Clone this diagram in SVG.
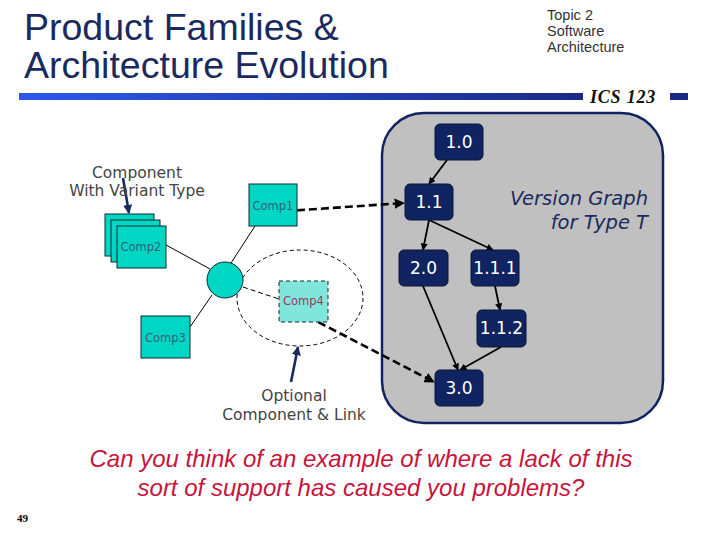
<svg xmlns="http://www.w3.org/2000/svg" width="720" height="540" viewBox="0 0 720 540">
<style>
.title{font-family:"Liberation Sans",Arial,sans-serif;font-size:37.5px;fill:#1b2a5e}
.topic{font-family:"Liberation Sans",Arial,sans-serif;font-size:14.5px;fill:#333}
.ics{font-family:"Liberation Serif",serif;font-size:18px;font-weight:bold;font-style:italic;fill:#111;letter-spacing:0.8px}
.ver rect{fill:#0f2460;stroke:#0a1638;stroke-width:1}
.ver text{font-family:"DejaVu Sans",Verdana,sans-serif;font-size:17px;fill:#fff;text-anchor:middle}
.comp rect{fill:#00d6c4;stroke:#0a2a30;stroke-width:1}
.comp text{font-family:"DejaVu Sans",Verdana,sans-serif;font-size:11.5px;fill:#35607a;text-anchor:middle}
.note{font-family:"DejaVu Sans",Verdana,sans-serif;font-size:15.5px;fill:#444;text-anchor:middle}
.vg{font-family:"DejaVu Sans",Verdana,sans-serif;font-size:19.5px;font-style:italic;fill:#1b2a5e;text-anchor:end}
.q{font-family:"Liberation Sans",Arial,sans-serif;font-size:24px;font-style:italic;fill:#c8143c;text-anchor:middle}
.thin{stroke:#000;stroke-width:1;fill:none}
.solid{stroke:#000;stroke-width:1.8;fill:none;marker-end:url(#ah)}
.dash{stroke:#000;stroke-width:2.6;fill:none;stroke-dasharray:8 4;marker-end:url(#ah)}
.navy{stroke:#1b2a5e;stroke-width:2.6;fill:none;marker-end:url(#ahn)}
</style>
<defs>
<linearGradient id="bar" x1="0" x2="1" y1="0" y2="0">
<stop offset="0" stop-color="#2c58ea"/>
<stop offset="1" stop-color="#1a2a88"/>
</linearGradient>
<marker id="ah" viewBox="0 0 10 10" refX="9" refY="5" markerWidth="4" markerHeight="4" orient="auto" markerUnits="strokeWidth">
<path d="M0,0 L10,5 L0,10 z" fill="#000"/>
</marker>
<marker id="ahn" viewBox="0 0 10 10" refX="9" refY="5" markerWidth="3.5" markerHeight="3.5" orient="auto" markerUnits="strokeWidth">
<path d="M0,0 L10,5 L0,10 z" fill="#1b2a5e"/>
</marker>
</defs>
<rect width="720" height="540" fill="#fff"/>

<g id="header">
<text class="title" x="24" y="40">Product Families &amp;</text>
<text class="title" x="24" y="78">Architecture Evolution</text>
<text class="topic" x="547" y="20">Topic 2</text>
<text class="topic" x="547" y="36">Software</text>
<text class="topic" x="547" y="52">Architecture</text>
<rect x="19" y="93" width="564" height="7" fill="url(#bar)"/>
<text class="ics" x="590" y="103">ICS 123</text>
<rect x="670" y="93" width="18" height="7" fill="#1a2a88"/>
</g>

<g id="panel">
<rect x="382" y="113" width="281" height="310" rx="42" ry="42" fill="#c0c0c0" stroke="#0f2460" stroke-width="2.5"/>
<text class="vg" x="648" y="205">Version Graph</text>
<text class="vg" x="648" y="229">for Type T</text>
</g>

<g id="ellipse">
<ellipse cx="300" cy="298" rx="63" ry="48" fill="none" stroke="#000" stroke-width="1" stroke-dasharray="4 3"/>
</g>

<g id="connectors">
<line class="thin" x1="231" y1="263" x2="255" y2="226"/>
<line class="thin" x1="166" y1="245" x2="210" y2="269"/>
<line class="thin" x1="190" y1="327" x2="212" y2="295"/>
<line class="thin" x1="243" y1="287" x2="279" y2="299" stroke-dasharray="5 3"/>
<line class="dash" x1="273" y1="212" x2="404" y2="203"/>
<line class="dash" x1="297" y1="311" x2="434" y2="382"/>
<line class="solid" x1="447" y1="160" x2="429" y2="184"/>
<line class="solid" x1="429" y1="220" x2="423" y2="250"/>
<line class="solid" x1="429" y1="220" x2="493" y2="250"/>
<line class="solid" x1="495" y1="286" x2="500" y2="310"/>
<line class="solid" x1="423" y1="286" x2="458" y2="370"/>
<line class="solid" x1="501" y1="347" x2="460" y2="370"/>
<line class="navy" x1="123" y1="178" x2="129" y2="213"/>
<line class="navy" x1="291" y1="382" x2="298" y2="347"/>
</g>

<g id="v10" class="ver"><rect x="435" y="124" width="48" height="36" rx="5"/><text x="459" y="148">1.0</text></g>
<g id="v11" class="ver"><rect x="405" y="184" width="48" height="36" rx="5"/><text x="429" y="208">1.1</text></g>
<g id="v20" class="ver"><rect x="399" y="250" width="49" height="36" rx="5"/><text x="423.5" y="274">2.0</text></g>
<g id="v111" class="ver"><rect x="471" y="250" width="48" height="36" rx="5"/><text x="495" y="274">1.1.1</text></g>
<g id="v112" class="ver"><rect x="477" y="310" width="49" height="37" rx="5"/><text x="501.5" y="334">1.1.2</text></g>
<g id="v30" class="ver"><rect x="435" y="370" width="48" height="36" rx="5"/><text x="459" y="394">3.0</text></g>

<g id="comp1" class="comp"><rect x="249" y="184" width="48" height="42"/><text x="273" y="210">Comp1</text></g>
<g id="comp2" class="comp">
<rect x="105" y="214" width="49" height="42"/>
<rect x="111" y="220" width="49" height="42"/>
<rect x="117" y="226" width="49" height="42"/>
<text x="141" y="251">Comp2</text>
</g>
<g id="comp3" class="comp"><rect x="141" y="316" width="49" height="42"/><text x="165.5" y="342">Comp3</text></g>
<g id="comp4" class="comp"><rect x="279" y="281" width="49" height="41" style="fill:#80e6dc" stroke-dasharray="4 3"/><text x="303.5" y="305" style="fill:#9a3a58">Comp4</text></g>
<g id="hub"><circle cx="225" cy="280" r="18" fill="#00d6c4" stroke="#0a2a30" stroke-width="1"/></g>

<g id="labels">
<text class="note" x="137" y="178">Component</text>
<text class="note" x="137" y="196">With Variant Type</text>
<text class="note" x="294" y="401">Optional</text>
<text class="note" x="294" y="420">Component &amp; Link</text>
</g>

<g id="footer">
<text class="q" x="361" y="467">Can you think of an example of where a lack of this</text>
<text class="q" x="361" y="496">sort of support has caused you problems?</text>
<text x="17" y="522" font-family="Liberation Serif,serif" font-size="11" font-weight="bold" fill="#000">49</text>
</g>
</svg>
